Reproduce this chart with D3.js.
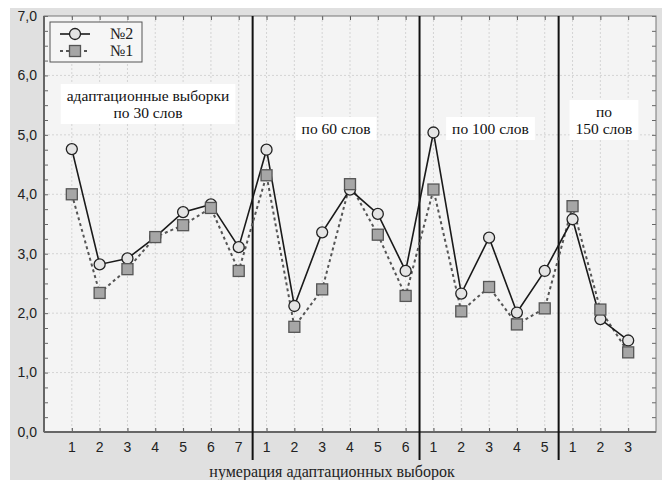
<!DOCTYPE html>
<html><head><meta charset="utf-8">
<script src="https://cdn.jsdelivr.net/npm/d3@7"></script>
<style>body{margin:0;background:#fff}svg{display:block}</style>
</head><body>
<script>
const xLabels = ["1","2","3","4","5","6","7","1","2","3","4","5","6","1","2","3","4","5","1","2","3"];
const series2 = [4.76,2.82,2.92,3.28,3.70,3.83,3.11,4.75,2.12,3.36,4.08,3.67,2.71,5.04,2.33,3.27,2.01,2.71,3.58,1.90,1.54];
const series1 = [4.00,2.34,2.74,3.28,3.48,3.77,2.71,4.32,1.77,2.40,4.17,3.32,2.29,4.08,2.03,2.44,1.81,2.08,3.80,2.06,1.34];
const yTicks = [0,1,2,3,4,5,6,7];
const separators = [7.5, 13.5, 18.5];
const legendNames = ["№2","№1"];
const xTitle = "нумерация адаптационных выборок";
const notes = [
  {lines:["адаптационные выборки","по 30 слов"], at:3.74, base:118},
  {lines:["по 60 слов"], at:10.5, base:134},
  {lines:["по 100 слов"], at:16.05, base:134},
  {lines:["по","150 слов"], at:20.13, base:134}
];

const W=665,H=480, L=44, R=656, T=16, B=432;
const svg = d3.select("body").append("svg").attr("width",W).attr("height",H);
svg.append("rect").attr("x",10).attr("y",8).attr("width",652).attr("height",472).attr("fill","#e0e0e0");
svg.append("rect").attr("x",L).attr("y",T).attr("width",R-L).attr("height",B-T).attr("fill","#f4f4f4");

const x = d3.scaleLinear().domain([0,22]).range([L,R]);
const y = d3.scaleLinear().domain([0,7]).range([B,T]);
const idx = d3.range(1,22);

// grid
svg.append("g").selectAll("line").data(idx).join("line")
  .attr("x1",d=>x(d)).attr("x2",d=>x(d)).attr("y1",T).attr("y2",B)
  .attr("stroke","#d4d4d4").attr("stroke-dasharray","2,2").attr("stroke-width",1);
svg.append("g").selectAll("line").data(yTicks.slice(1,7)).join("line")
  .attr("x1",L).attr("x2",R).attr("y1",d=>y(d)).attr("y2",d=>y(d))
  .attr("stroke","#d4d4d4").attr("stroke-dasharray","2,2").attr("stroke-width",1);

// axes (ticks inward)
const minor = d3.range(0,7.01,0.25);
svg.append("g").attr("transform",`translate(${L},0)`)
  .call(d3.axisLeft(y).tickValues(minor).tickSize(-4).tickFormat(""))
  .call(g=>g.select(".domain").remove()).selectAll("line").attr("stroke","#666");
svg.append("g").attr("transform",`translate(${R},0)`)
  .call(d3.axisRight(y).tickValues(minor).tickSize(-4).tickFormat(""))
  .call(g=>g.select(".domain").remove()).selectAll("line").attr("stroke","#666");
svg.append("g").attr("transform",`translate(0,${T})`)
  .call(d3.axisTop(x).tickValues(idx).tickSize(-4).tickFormat(""))
  .call(g=>g.select(".domain").remove()).selectAll("line").attr("stroke","#555");
svg.append("g").attr("transform",`translate(0,${B})`)
  .call(d3.axisBottom(x).tickValues(idx).tickSize(-4).tickFormat(""))
  .call(g=>g.select(".domain").remove()).selectAll("line").attr("stroke","#555");

svg.append("rect").attr("x",L).attr("y",T).attr("width",R-L).attr("height",B-T)
  .attr("fill","none").attr("stroke","#777").attr("stroke-width",1);
svg.append("line").attr("x1",L).attr("x2",L).attr("y1",T).attr("y2",B).attr("stroke","#666").attr("stroke-width",2);
svg.append("line").attr("x1",L).attr("x2",R).attr("y1",B).attr("y2",B).attr("stroke","#666").attr("stroke-width",2);

// y labels
svg.append("g").selectAll("text").data(yTicks).join("text")
  .attr("x",37).attr("y",d=>y(d)).attr("dy","0.35em").attr("text-anchor","end")
  .attr("font-family","Liberation Sans, Arial, sans-serif").attr("font-size",14).attr("fill","#222")
  .text(d=>d.toFixed(1).replace(".",","));
// x labels
svg.append("g").selectAll("text").data(idx).join("text")
  .attr("x",d=>x(d)).attr("y",452).attr("text-anchor","middle")
  .attr("font-family","Liberation Sans, Arial, sans-serif").attr("font-size",14).attr("fill","#222")
  .text((d,i)=>xLabels[i]);
svg.append("text").attr("x",332).attr("y",477).attr("text-anchor","middle")
  .attr("font-family","Liberation Serif, Times New Roman, serif").attr("font-size",16).attr("fill","#222")
  .text(xTitle);

// annotations
const noteG = svg.append("g").attr("font-family","Liberation Serif, Times New Roman, serif").attr("font-size",15.5).attr("fill","#111");
notes.forEach(n=>{
  const g = noteG.append("g");
  const cx = x(n.at);
  const lh = 17;
  const texts = n.lines.map((t,i)=>g.append("text").attr("x",cx)
     .attr("y",n.base-(n.lines.length-1-i)*lh).attr("text-anchor","middle").text(t));
  const bbs = texts.map(t=>t.node().getBBox());
  const x0=d3.min(bbs,b=>b.x)-6, x1=d3.max(bbs,b=>b.x+b.width)+6;
  const y0=d3.min(bbs,b=>b.y)-3, y1=d3.max(bbs,b=>b.y+b.height)+3;
  g.insert("rect","text").attr("x",x0).attr("y",y0).attr("width",x1-x0).attr("height",y1-y0).attr("fill","#fff");
});

// separators
svg.append("g").selectAll("line").data(separators).join("line")
  .attr("x1",d=>x(d)).attr("x2",d=>x(d)).attr("y1",T).attr("y2",460)
  .attr("stroke","#111").attr("stroke-width",2);

// lines
const line = d3.line().x((d,i)=>x(i+1)).y(d=>y(d));
svg.append("path").datum(series1).attr("d",line).attr("fill","none")
  .attr("stroke","#555").attr("stroke-width",2).attr("stroke-dasharray","3,3");
svg.append("path").datum(series2).attr("d",line).attr("fill","none")
  .attr("stroke","#1a1a1a").attr("stroke-width",1.6);
svg.append("g").selectAll("circle").data(series2).join("circle")
  .attr("cx",(d,i)=>x(i+1)).attr("cy",d=>y(d)).attr("r",5.5)
  .attr("fill","#e4e4e4").attr("stroke","#222").attr("stroke-width",1.3);
svg.append("g").selectAll("rect").data(series1).join("rect")
  .attr("x",(d,i)=>x(i+1)-5.5).attr("y",d=>y(d)-5.5).attr("width",11).attr("height",11)
  .attr("fill","#a6a6a6").attr("stroke","#555").attr("stroke-width",1.3);

// legend
const lg = svg.append("g");
lg.append("rect").attr("x",50).attr("y",22).attr("width",92).attr("height",40)
  .attr("fill","#f6f6f6").attr("stroke","#555").attr("stroke-width",1);
lg.append("line").attr("x1",60).attr("x2",90).attr("y1",34).attr("y2",34).attr("stroke","#1a1a1a").attr("stroke-width",1.6);
lg.append("circle").attr("cx",75).attr("cy",34).attr("r",5.5).attr("fill","#e4e4e4").attr("stroke","#222").attr("stroke-width",1.3);
lg.append("line").attr("x1",60).attr("x2",90).attr("y1",51).attr("y2",51).attr("stroke","#555").attr("stroke-width",2).attr("stroke-dasharray","3,3");
lg.append("rect").attr("x",69.5).attr("y",45.5).attr("width",11).attr("height",11).attr("fill","#a6a6a6").attr("stroke","#555").attr("stroke-width",1.3);
lg.selectAll("text").data(legendNames).join("text")
  .attr("x",110).attr("y",(d,i)=>39+i*17)
  .attr("font-family","Liberation Serif, Times New Roman, serif").attr("font-size",16).attr("fill","#222")
  .text(d=>d);
</script>
</body></html>
